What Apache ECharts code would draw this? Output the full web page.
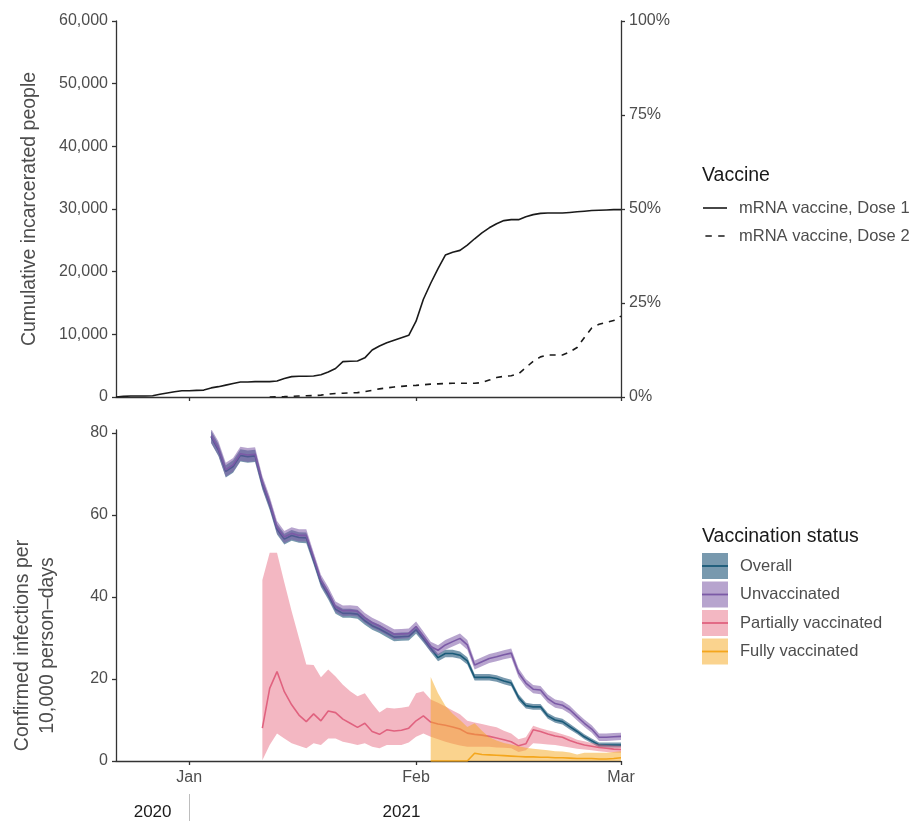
<!DOCTYPE html>
<html><head><meta charset="utf-8">
<script src="https://cdn.jsdelivr.net/npm/echarts@6/dist/echarts.min.js"></script>
<style>html,body{margin:0;padding:0;background:#fff}#c{width:911px;height:821px}</style>
</head><body><div id="c"></div>
<script>
// ---------- data ----------
const axisStart = '2020-12-22';
const axisEnd = '2021-03-01';
const monthTicks = ['2021-01-01', '2021-02-01', '2021-03-01'];
const monthLabels = ['Jan', 'Feb', 'Mar'];
const yearLabels = ['2020', '2021'];
const yearLabelDates = ['2020-12-27', '2021-01-30'];
const yearBreak = ['2021-01-01'];
const leftTicks = [0, 10000, 20000, 30000, 40000, 50000, 60000];
const bottomTicks = [0, 20, 40, 60, 80];

// top panel: cumulative incarcerated people (daily from start date)
const dose1Start = '2020-12-22';
const dose1 = [0,100,150,150,150,200,450,650,850,1000,
  1000,1050,1100,1450,1650,1900,2150,2400,2400,2450,
  2450,2450,2550,2950,3250,3300,3300,3350,3550,4000,
  4550,5650,5700,5750,6250,7500,8150,8650,9050,9450,
  9850,12100,15600,18150,20500,22650,23100,23400,24250,25250,
  26200,27000,27650,28150,28300,28300,28750,29100,29300,29350,
  29350,29350,29450,29550,29650,29750,29800,29850,29900,29900];
const dose2Start = '2021-01-12';
const dose2 = [0,30,60,100,150,200,220,300,450,550,
  600,650,700,850,1050,1300,1450,1600,1700,1800,
  1850,1950,2050,2100,2150,2200,2200,2200,2200,2300,
  2700,3100,3300,3400,3700,4700,5700,6400,6700,6700,
  6700,7200,7900,9500,11000,11600,11900,12200,12900];

// bottom panel: infections per 10,000 person-days
const overallStart = '2021-01-04';
const overall = [79.0,75.8,70.6,71.8,74.5,74.2,74.4,67.5,62.5,56.5,
  54.1,55.0,54.5,54.4,49.0,43.5,40.5,37.0,36.0,36.0,
  35.8,34.2,33.0,32.2,31.2,30.2,30.3,30.4,32.0,29.8,
  27.5,25.2,26.2,26.2,25.8,24.4,20.4,20.4,20.4,20.1,
  19.5,19.0,15.5,13.5,13.2,13.2,11.0,10.0,9.6,8.4,
  7.2,5.9,4.9,3.9,3.9,3.9,3.9];
const overallLow = [77.5,74.3,69.1,70.3,73.0,72.7,72.9,66.2,61.2,55.2,
  52.8,53.7,53.2,53.1,47.9,42.4,39.4,35.9,34.9,34.9,
  34.7,33.2,32.0,31.2,30.2,29.2,29.3,29.4,31.0,28.9,
  26.6,24.3,25.3,25.3,24.9,23.5,19.6,19.6,19.6,19.3,
  18.7,18.2,14.7,12.8,12.5,12.5,10.3,9.3,8.9,7.7,
  6.6,5.3,4.3,3.3,3.3,3.3,3.3];
const overallHigh = [80.5,77.3,72.1,73.3,76.0,75.7,75.9,68.8,63.8,57.8,
  55.4,56.3,55.8,55.7,50.1,44.6,41.6,38.1,37.1,37.1,
  36.9,35.2,34.0,33.2,32.2,31.2,31.3,31.4,33.0,30.7,
  28.4,26.1,27.1,27.1,26.7,25.3,21.2,21.2,21.2,20.9,
  20.3,19.8,16.3,14.2,13.9,13.9,11.7,10.7,10.3,9.1,
  7.8,6.5,5.5,4.5,4.5,4.5,4.5];

const unvaxStart = '2021-01-04';
const unvax = [79.3,76.2,71.0,72.2,74.9,74.6,74.8,68.0,63.0,57.0,
  54.6,55.5,55.0,55.0,49.6,44.1,41.1,37.6,36.6,36.7,
  36.5,34.9,33.7,32.9,31.9,30.9,31.0,31.1,32.8,30.4,
  27.9,27.0,28.3,29.1,29.9,28.3,23.4,24.2,25.0,25.4,
  25.9,26.3,21.5,19.0,17.5,17.3,15.2,14.0,13.6,12.5,
  10.8,9.2,7.8,5.8,5.8,5.9,6.0];
const unvaxLow = [77.6,74.5,69.3,70.5,73.2,72.9,73.1,66.5,61.5,55.5,
  53.1,54.0,53.5,53.5,48.3,42.8,39.8,36.3,35.3,35.4,
  35.2,33.7,32.5,31.7,30.7,29.7,29.8,29.9,31.6,29.2,
  26.7,25.8,27.1,27.9,28.7,27.1,22.3,23.1,23.9,24.3,
  24.8,25.2,20.4,18.0,16.5,16.3,14.2,13.0,12.6,11.5,
  9.9,8.3,6.9,4.9,4.9,5.0,5.1];
const unvaxHigh = [81.0,77.9,72.7,73.9,76.6,76.3,76.5,69.5,64.5,58.5,
  56.1,57.0,56.5,56.5,50.9,45.4,42.4,38.9,37.9,38.0,
  37.8,36.1,34.9,34.1,33.1,32.1,32.2,32.3,34.0,31.6,
  29.1,28.2,29.5,30.3,31.1,29.5,24.5,25.3,26.1,26.5,
  27.0,27.4,22.6,20.0,18.5,18.3,16.2,15.0,14.6,13.5,
  11.7,10.1,8.7,6.7,6.7,6.8,6.9];

const partialStart = '2021-01-11';
const partial = [8.0,17.7,21.8,16.9,13.7,11.2,9.6,11.5,9.8,12.2,
  11.8,10.2,9.2,8.2,9.2,7.2,6.5,7.6,7.3,7.5,
  8.0,9.8,11.0,9.5,9.0,8.7,8.3,7.8,6.8,6.5,
  6.3,6.0,5.6,5.2,4.7,3.7,4.2,7.6,7.2,6.6,
  6.1,5.8,5.0,4.4,3.9,3.6,3.3,3.1,2.9,2.8];
const partialLow = [0.2,3.9,6.7,5.5,4.3,3.7,3.1,4.3,3.9,5.5,
  5.5,4.7,4.3,3.9,4.3,3.5,3.1,3.9,3.9,3.9,
  4.5,5.9,6.7,5.9,5.3,4.7,4.2,3.8,3.5,3.5,
  3.5,3.5,3.3,3.2,3.1,2.2,2.6,4.3,4.2,4.0,
  3.9,3.6,3.3,3.0,2.8,2.6,2.4,2.2,2.1,2.0];
const partialHigh = [44.1,50.8,50.8,43.5,36.5,30.0,23.5,23.4,20.4,22.3,
  20.6,18.6,17.0,15.8,16.5,14.0,11.8,13.0,12.8,13.0,
  13.3,16.5,17.0,15.0,14.2,13.3,12.3,11.4,9.8,9.4,
  9.0,8.6,8.2,7.4,6.7,5.3,5.8,8.6,8.0,7.5,
  7.1,6.5,6.0,5.2,4.8,4.4,4.0,3.9,3.8,3.7];

const fullStart = '2021-02-03';
const full = [0,0,0,0,0,0,1.9,1.6,1.5,1.4,
  1.3,1.2,1.1,1.0,1.0,0.9,0.9,0.8,0.8,0.7,
  0.6,0.6,0.6,0.5,0.5,0.6,0.8];
const fullLow = [0,0,0,0,0,0,0,0,0,0,
  0,0,0,0,0,0,0,0,0,0,
  0,0,0,0,0,0,0];
const fullHigh = [20.5,16.5,13.5,11.5,10.0,8.3,9.2,7.4,5.8,5.0,
  4.4,4.0,3.6,3.2,3.0,2.8,2.6,2.4,2.3,2.1,
  1.6,2.0,2.0,2.0,2.0,2.2,2.4];

const topNames = ['mRNA vaccine, Dose 1', 'mRNA vaccine, Dose 2'];
const statusNames = ['Overall', 'Unvaccinated', 'Partially vaccinated', 'Fully vaccinated'];

// ---------- helpers ----------
const DAY = 86400000;
function ts(s) { const p = s.split('-').map(Number); return Date.UTC(p[0], p[1] - 1, p[2]); }
function pairs(start, arr) { const t0 = ts(start); return arr.map((v, i) => [t0 + i * DAY, v]); }

const FONT = "'Liberation Sans', Arial, Helvetica, sans-serif";
const TXT = '#4d4d4d';
const AX = '#333333';
const DOSE = '#1a1a1a';
const statusLine = ['#1a5a78', '#7b5aa6', '#e0627f', '#f4a61c'];
const statusFill = ['rgba(30,85,120,0.6)', 'rgba(123,90,166,0.55)', 'rgba(228,96,120,0.45)', 'rgba(246,168,30,0.5)'];

function bandSeries(name, start, lo, hi, fill, z) {
  const t0 = ts(start);
  return {
    type: 'custom', name: name, xAxisIndex: 1, yAxisIndex: 2, z: z, silent: true, clip: true,
    data: [[t0, lo[0]]], encode: { x: 0, y: 1 },
    renderItem: function (params, api) {
      const pts = [];
      for (let i = 0; i < hi.length; i++) pts.push(api.coord([t0 + i * DAY, hi[i]]));
      for (let i = lo.length - 1; i >= 0; i--) pts.push(api.coord([t0 + i * DAY, lo[i]]));
      return { type: 'polygon', shape: { points: pts }, style: { fill: fill } };
    }
  };
}
function statusLineSeries(name, start, arr, color, z) {
  return {
    type: 'line', name: name, xAxisIndex: 1, yAxisIndex: 2, z: z, symbol: 'none', silent: true,
    data: pairs(start, arr), lineStyle: { color: color, width: 1.6 }, itemStyle: { color: color }
  };
}

const minT = ts(axisStart), maxT = ts(axisEnd);
const axLine = { show: true, lineStyle: { color: AX, width: 1.3 } };
const axTick = (vals) => ({ show: true, length: 4, customValues: vals, lineStyle: { color: AX, width: 1.3 } });
const monthTs = monthTicks.map(ts);
const yearTs = yearLabelDates.map(ts);
const noBorder = { borderWidth: 0, borderColor: 'rgba(0,0,0,0)' };

const chart = echarts.init(document.getElementById('c'), null, { renderer: 'canvas' });
chart.setOption({
  animation: false,
  backgroundColor: '#ffffff',
  textStyle: { fontFamily: FONT },
  title: [
    { text: 'Vaccine', left: 702, top: 166, padding: 0,
      textStyle: { fontSize: 19.5, fontWeight: 'normal', color: '#1a1a1a', fontFamily: FONT } },
    { text: 'Vaccination status', left: 702, top: 527, padding: 0,
      textStyle: { fontSize: 19.5, fontWeight: 'normal', color: '#1a1a1a', fontFamily: FONT } }
  ],
  legend: [
    { orient: 'vertical', left: 703, top: 194, padding: 0, itemWidth: 24, itemHeight: 1.6, itemGap: 0,
      selectedMode: false,
      data: [
        { name: topNames[0], icon: 'rect', itemStyle: Object.assign({ color: DOSE }, noBorder) },
        { name: topNames[1], icon: 'path://M0,0H8V2H0Z M16,0H24V2H16Z', itemStyle: Object.assign({ color: DOSE }, noBorder) }
      ],
      textStyle: { fontSize: 16.5, color: TXT, lineHeight: 28, padding: [0, 0, 0, 7], fontFamily: FONT } },
    { orient: 'vertical', left: 702, top: 553, padding: 0, itemWidth: 26, itemHeight: 26, itemGap: 2.5,
      selectedMode: false,
      data: statusNames.map((n, i) => ({ name: n, icon: 'rect', itemStyle: Object.assign({ color: statusFill[i] }, noBorder) })),
      textStyle: { fontSize: 16.5, color: TXT, lineHeight: 26, padding: [0, 0, 0, 7], fontFamily: FONT } },
    { orient: 'vertical', left: 702, top: 553, padding: 0, itemWidth: 26, itemHeight: 1.8, itemGap: 2.5,
      selectedMode: false,
      data: statusNames.map((n, i) => ({ name: n, icon: 'rect', itemStyle: Object.assign({ color: statusLine[i] }, noBorder) })),
      textStyle: { fontSize: 16.5, color: 'rgba(0,0,0,0)', lineHeight: 26, padding: [0, 0, 0, 7], fontFamily: FONT } }
  ],
  grid: [
    { left: 116, top: 21, width: 505, height: 376 },
    { left: 116, top: 430, width: 505, height: 331 }
  ],
  xAxis: [
    { type: 'value', gridIndex: 0, min: minT, max: maxT, axisLine: axLine, axisTick: axTick(monthTs),
      axisLabel: { show: false }, splitLine: { show: false } },
    { type: 'value', gridIndex: 1, min: minT, max: maxT, axisLine: axLine, axisTick: axTick(monthTs),
      axisLabel: { show: true, customValues: monthTs, margin: 9, fontSize: 16, color: TXT, fontFamily: FONT,
        formatter: (v) => { const k = monthTs.indexOf(v); return k >= 0 ? monthLabels[k] : ''; } },
      splitLine: { show: false } },
    { type: 'value', gridIndex: 1, min: minT, max: maxT, position: 'bottom', offset: 33,
      axisLine: { show: false },
      axisTick: { show: true, length: 27, customValues: yearBreak.map(ts), lineStyle: { color: '#bdbdbd', width: 1 } },
      axisLabel: { show: true, customValues: yearTs, margin: 10, fontSize: 17, color: '#1a1a1a', fontFamily: FONT,
        formatter: (v) => { const k = yearTs.indexOf(v); return k >= 0 ? yearLabels[k] : ''; } },
      splitLine: { show: false } }
  ],
  yAxis: [
    { type: 'value', gridIndex: 0, min: 0, max: 60000, position: 'left',
      name: 'Cumulative incarcerated people', nameLocation: 'middle', nameGap: 76,
      nameTextStyle: { fontSize: 19.5, color: TXT, fontFamily: FONT },
      axisLine: axLine, axisTick: axTick(leftTicks),
      axisLabel: { customValues: leftTicks, margin: 8, fontSize: 16, color: TXT, fontFamily: FONT,
        formatter: (v) => v.toLocaleString('en-US') },
      splitLine: { show: false } },
    { type: 'value', gridIndex: 0, min: 0, max: 100, interval: 25, position: 'right',
      axisLine: axLine, axisTick: { show: true, length: 4, lineStyle: { color: AX, width: 1.3 } },
      axisLabel: { margin: 8, fontSize: 16, color: TXT, fontFamily: FONT, formatter: '{value}%' },
      splitLine: { show: false } },
    { type: 'value', gridIndex: 1, min: 0, max: 80.7, position: 'left',
      name: 'Confirmed infections per\n10,000 person–days', nameLocation: 'middle', nameGap: 56,
      nameTextStyle: { fontSize: 19.5, color: TXT, lineHeight: 25, fontFamily: FONT, padding: [0, 100, 0, 0] },
      axisLine: axLine, axisTick: axTick(bottomTicks),
      axisLabel: { customValues: bottomTicks, margin: 8, fontSize: 16, color: TXT, fontFamily: FONT },
      splitLine: { show: false } }
  ],
  series: [
    { type: 'line', name: topNames[0], xAxisIndex: 0, yAxisIndex: 0, symbol: 'none', silent: true,
      data: pairs(dose1Start, dose1), lineStyle: { color: DOSE, width: 1.6 }, itemStyle: { color: DOSE } },
    { type: 'line', name: topNames[1], xAxisIndex: 0, yAxisIndex: 0, symbol: 'none', silent: true,
      data: pairs(dose2Start, dose2), lineStyle: { color: DOSE, width: 1.6, type: [6, 6] }, itemStyle: { color: DOSE } },

    bandSeries(statusNames[0], overallStart, overallLow, overallHigh, statusFill[0], 2),
    statusLineSeries(statusNames[0], overallStart, overall, statusLine[0], 3),
    bandSeries(statusNames[1], unvaxStart, unvaxLow, unvaxHigh, statusFill[1], 4),
    statusLineSeries(statusNames[1], unvaxStart, unvax, statusLine[1], 5),
    bandSeries(statusNames[2], partialStart, partialLow, partialHigh, statusFill[2], 6),
    statusLineSeries(statusNames[2], partialStart, partial, statusLine[2], 7),
    bandSeries(statusNames[3], fullStart, fullLow, fullHigh, statusFill[3], 8),
    statusLineSeries(statusNames[3], fullStart, full, statusLine[3], 9)
  ]
});
</script>
</body></html>
